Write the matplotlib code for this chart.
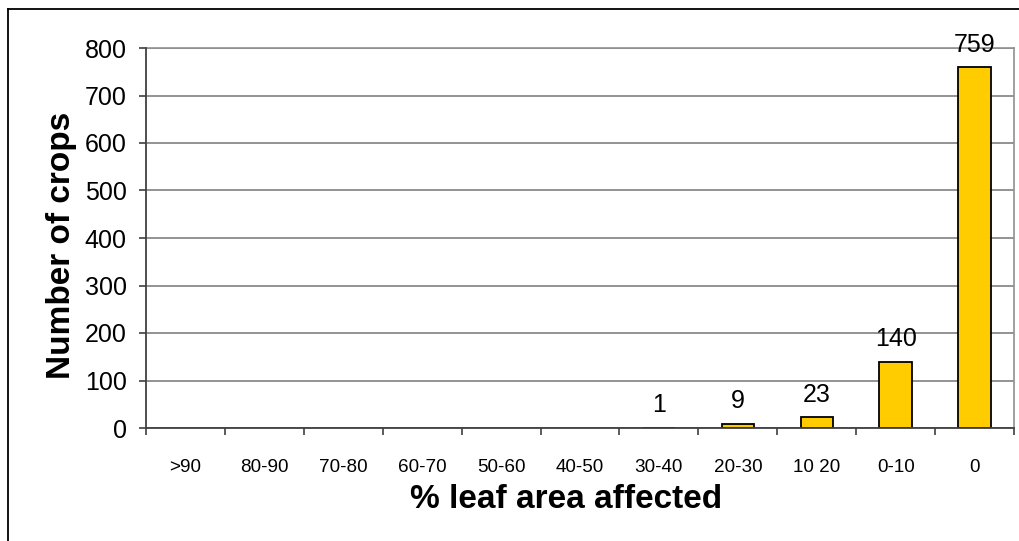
import matplotlib
matplotlib.use("Agg")
import matplotlib.pyplot as plt
from matplotlib.lines import Line2D
import numpy as np

categories = [">90", "80-90", "70-80", "60-70", "50-60", "40-50", "30-40", "20-30", "10 20", "0-10", "0"]
values = [0, 0, 0, 0, 0, 0, 1, 9, 23, 140, 759]
labels = ["", "", "", "", "", "", "1", "9", "23", "140", "759"]
yticks = [0, 100, 200, 300, 400, 500, 600, 700, 800]

plt.rcParams['font.family'] = ['Liberation Sans', 'DejaVu Sans']

W, H = 1019, 541
fig = plt.figure(figsize=(W / 100, H / 100), dpi=100)
ax = fig.add_axes([146 / W, 1 - 428 / H, (1014 - 146) / W, (428 - 48) / H])

x = np.arange(len(categories))
edge = ["black" if v > 0 else "none" for v in values]
ax.bar(x, values, width=0.41, color="#FFCC00", edgecolor=edge, linewidth=1.3, zorder=3)

for xi, v, lab in zip(x, values, labels):
    if lab:
        ax.annotate(lab, (xi, v), xytext=(0, 11), textcoords="offset points",
                    ha="center", va="baseline", fontsize=18, zorder=4)

ax.set_xlim(-0.5, len(categories) - 0.5)
ax.set_ylim(0, 800)
ax.set_yticks(yticks)
ax.set_yticklabels([str(t) for t in yticks], fontsize=18)
ax.yaxis.grid(True, color="#808080", linewidth=1.2, zorder=0)
ax.tick_params(axis="y", direction="out", length=5, width=1.2, color="#404040", pad=9)

ax.set_xticks(x)
ax.set_xticklabels(categories, fontsize=13.6)
ax.tick_params(axis="x", which="major", length=0, pad=22)
ax.set_xticks(np.arange(len(categories) + 1) - 0.5, minor=True)
ax.tick_params(axis="x", which="minor", direction="out", length=5, width=1.2, color="#404040")

for side in ["left", "bottom"]:
    ax.spines[side].set_color("#404040")
    ax.spines[side].set_linewidth(1.3)
    ax.spines[side].set_zorder(5)
for side in ["right", "top"]:
    ax.spines[side].set_color("#909090")
    ax.spines[side].set_linewidth(1.2)

fig.text(566 / W, 1 - 500 / H, "% leaf area affected", ha="center", va="center",
         fontsize=24, fontweight="bold")
fig.text(62 / W, 1 - 245 / H, "Number of crops", ha="center", va="center",
         fontsize=24, fontweight="bold", rotation=90)

# outer chart frame (clipped at right and bottom)
fig.add_artist(Line2D([7.5 / W, 7.5 / W], [0, 1 - 8.5 / H], transform=fig.transFigure,
                      color="black", linewidth=1.3))
fig.add_artist(Line2D([7.5 / W, 1], [1 - 8.5 / H, 1 - 8.5 / H], transform=fig.transFigure,
                      color="black", linewidth=1.3))

fig.savefig("out.png", dpi=100)
